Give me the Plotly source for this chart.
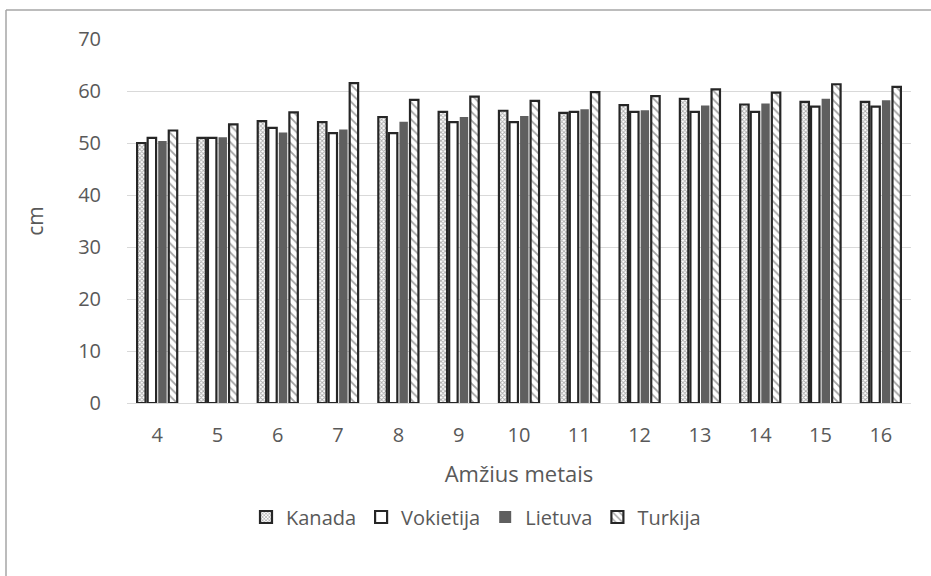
import plotly.graph_objects as go

# Age groups (years)
ages = ["4", "5", "6", "7", "8", "9", "10", "11", "12", "13", "14", "15", "16"]

# Mean values (cm) per country
kanada = [50.0, 51.0, 54.2, 54.0, 55.0, 56.0, 56.2, 55.8, 57.3, 58.5, 57.4, 57.9, 57.9]
vokietija = [51.0, 51.0, 52.9, 51.9, 51.9, 54.0, 54.0, 56.0, 56.0, 56.0, 56.0, 57.0, 57.0]
lietuva = [50.4, 51.1, 52.0, 52.6, 54.1, 55.0, 55.2, 56.5, 56.3, 57.2, 57.6, 58.5, 58.2]
turkija = [52.4, 53.6, 55.9, 61.5, 58.3, 58.9, 58.1, 59.8, 59.0, 60.3, 59.7, 61.3, 60.8]

y_ticks = [0, 10, 20, 30, 40, 50, 60, 70]

FONT = "Open Sans, Liberation Sans, sans-serif"
TXT = "#595959"
OUTLINE = "#262626"

fig = go.Figure()

fig.add_trace(go.Bar(
    name="Kanada", x=ages, y=kanada,
    marker=dict(
        color="white",
        line=dict(color=OUTLINE, width=2.2),
        pattern=dict(shape="x", size=3, solidity=0.5, fgcolor="#555555", bgcolor="white"),
    ),
))
fig.add_trace(go.Bar(
    name="Vokietija", x=ages, y=vokietija,
    marker=dict(color="white", line=dict(color=OUTLINE, width=2.2)),
))
fig.add_trace(go.Bar(
    name="Lietuva", x=ages, y=lietuva,
    marker=dict(color="#5f5f5f", line=dict(width=0)),
))
fig.add_trace(go.Bar(
    name="Turkija", x=ages, y=turkija,
    marker=dict(
        color="white",
        line=dict(color=OUTLINE, width=2.2),
        pattern=dict(shape="\\", size=6, solidity=0.3, fgcolor="#444444", bgcolor="white"),
    ),
))

# Plot area geometry in pixels
W, H = 931, 576
L, R, T, B = 127, 20, 39, 173
pw, ph = W - L - R, H - T - B


def px(x):
    return (x - L) / pw


def py(y):
    return (H - B - y) / ph


fig.update_layout(
    width=W, height=H,
    margin=dict(l=L, r=R, t=T, b=B),
    paper_bgcolor="white", plot_bgcolor="white",
    font=dict(family=FONT, size=20, color=TXT),
    barmode="group", bargap=0.30, bargroupgap=0.2,
    showlegend=True,
    legend=dict(
        orientation="h", x=px(476), xanchor="center", y=py(517), yanchor="middle",
        font=dict(family=FONT, size=20, color=TXT),
        itemwidth=30, traceorder="normal",
    ),
    xaxis=dict(
        showgrid=False, showline=True, linecolor="#d9d9d9", linewidth=1,
        ticks="", ticklabelstandoff=14, tickfont=dict(size=20, color=TXT),
        title=dict(text="Amžius metais", font=dict(size=22, color=TXT), standoff=19),
    ),
    yaxis=dict(
        range=[0, 70], tickvals=y_ticks, showgrid=True, gridcolor="#d9d9d9", gridwidth=1,
        zeroline=False, showline=False, ticks="", ticklabelstandoff=25,
        tickfont=dict(size=20, color=TXT),
        title=dict(text="cm", font=dict(size=21, color=TXT), standoff=28),
    ),
    shapes=[
        dict(type="line", xref="paper", yref="paper", x0=px(6), x1=px(6), y0=py(10), y1=py(580),
             line=dict(color="#a6a6a6", width=1.5)),
        dict(type="line", xref="paper", yref="paper", x0=px(6), x1=px(935), y0=py(10), y1=py(10),
             line=dict(color="#a6a6a6", width=1.5)),
    ],
)

fig.write_html("out.html")
